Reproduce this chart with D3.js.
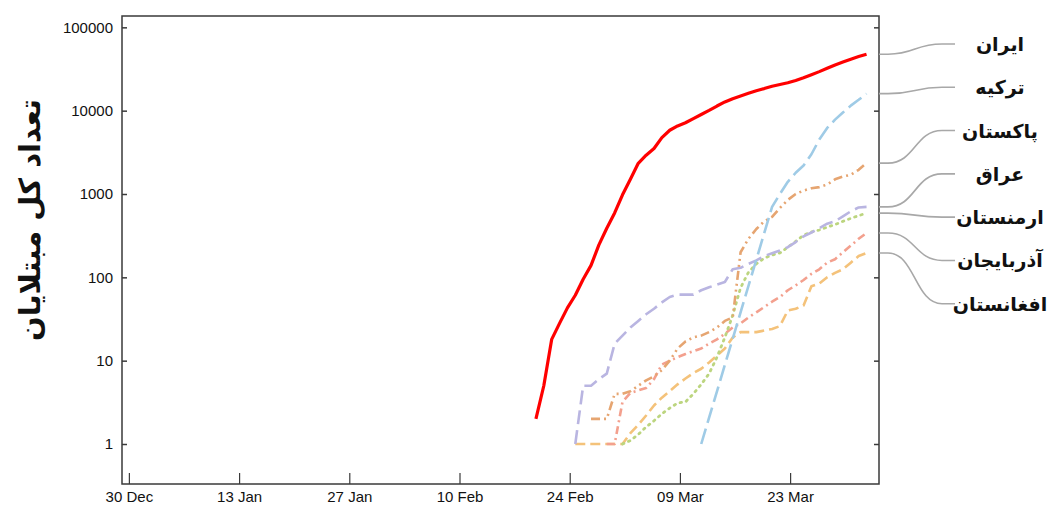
<!DOCTYPE html>
<html>
<head>
<meta charset="utf-8">
<script src="https://cdn.jsdelivr.net/npm/d3@7"></script>
<style>
  html, body { margin: 0; padding: 0; background: #fff; }
  svg { display: block; }
</style>
</head>
<body>
<svg id="chart" width="1060" height="508"></svg>
<script>
// ---------------- data ----------------
const dates = [
  "2020-02-19","2020-02-20","2020-02-21","2020-02-22","2020-02-23","2020-02-24","2020-02-25",
  "2020-02-26","2020-02-27","2020-02-28","2020-02-29","2020-03-01","2020-03-02","2020-03-03",
  "2020-03-04","2020-03-05","2020-03-06","2020-03-07","2020-03-08","2020-03-09","2020-03-10",
  "2020-03-11","2020-03-12","2020-03-13","2020-03-14","2020-03-15","2020-03-16","2020-03-17",
  "2020-03-18","2020-03-19","2020-03-20","2020-03-21","2020-03-22","2020-03-23","2020-03-24",
  "2020-03-25","2020-03-26","2020-03-27","2020-03-28","2020-03-29","2020-03-30","2020-03-31",
  "2020-04-01"
];
const _ = null;
const iran = [2,5,18,28,43,61,95,139,245,388,593,978,1501,2336,2922,3513,4747,5823,6566,7161,8042,
  9000,10075,11364,12729,13938,14991,16169,17361,18407,19644,20610,21638,23049,24811,27017,29406,
  32332,35408,38309,41495,44605,47593];
const turkey = [_,_,_,_,_,_,_,_,_,_,_,_,_,_,_,_,_,_,_,_,_,
  1,_,_,_,_,_,_,_,_,700,1000,1400,1800,2200,3000,4500,6200,7800,9500,11500,13500,16000];
const pakistan = [_,_,_,_,_,_,_,2,2,2,4,4,4.3,5,5.8,6.5,7.7,10,14,17,19,
  20,22,25,30,33,200,290,380,470,530,680,850,1000,1100,1170,1210,1300,1500,1620,1700,1950,2350];
const iraq = [_,_,_,_,_,1,5,5,6,7,16,20,25,30,36,42,50,58,62,62,62,
  70,76,82,88,125,130,145,160,180,195,210,230,265,310,345,390,440,470,540,620,690,700];
const armenia = [_,_,_,_,_,_,_,_,_,_,_,1,1.1,1.3,1.6,1.9,2.3,2.7,3.1,3.2,4,
  5.2,7,11,19,35,75,115,145,170,185,196,230,270,320,350,370,400,430,470,510,550,590];
const azerbaijan = [_,_,_,_,_,_,_,_,_,1,1,3.2,4.1,4.4,4.7,6,9,10,11,12,13,
  14,16,18,21,25,28,33,38,44,51,58,70,80,93,110,125,150,165,200,240,290,340];
const afghanistan = [_,_,_,_,_,1,1,1,1,1,1,1,1.35,1.7,2.2,2.9,3.6,4.3,5.2,6.1,7.1,
  8,9.5,11.5,14,19,22,22,22,23,24,26,40,42,46,78,84,100,113,125,150,180,196];

const seriesNames = ["ایران","ترکیه","پاکستان","عراق","ارمنستان","آذربایجان","افغانستان"];
const seriesValues = [iran, turkey, pakistan, iraq, armenia, azerbaijan, afghanistan];

const xTickDates = ["2019-12-30","2020-01-13","2020-01-27","2020-02-10","2020-02-24","2020-03-09","2020-03-23"];
const yTickValues = [1,10,100,1000,10000,100000];
const yTitle = "تعداد کل مبتلایان";

// ---------------- styles ----------------
const styles = [
  {color:"#ff0000", width:3.2, dash:null},
  {color:"#9fcbe6", width:2.6, dash:"16,6"},
  {color:"#e6a571", width:2.6, dash:"9,4,2,4,2,4"},
  {color:"#b9b5e1", width:2.6, dash:"14,6"},
  {color:"#bcd57f", width:2.8, dash:"1.5,5"},
  {color:"#f3a08e", width:2.6, dash:"8,4,2,4"},
  {color:"#f4c27a", width:2.6, dash:"10,5"}
];

// ---------------- layout ----------------
const svg = d3.select("#chart");
const L = 122, R = 879, T = 16, B = 484;
const reportHour = 17; // cumulative counts drawn at end of reporting day

const parseDay = (s, h=0) => { const [y,m,d] = s.split("-").map(Number); return new Date(Date.UTC(y, m-1, d, h)); };

const x = d3.scaleUtc()
  .domain([new Date(Date.UTC(2019,11,29,3)), new Date(Date.UTC(2020,3,3,7))])
  .range([L, R]);
const y = d3.scaleLog()
  .domain([Math.pow(10,-0.48), Math.pow(10,5.136)])
  .range([B, T]);

const frameColor = "#3a3a3a";
const tickFont = "'Liberation Sans', Arial, sans-serif";

// x axis (ticks inward, bottom)
const xAxis = d3.axisBottom(x)
  .tickValues(xTickDates.map(s => parseDay(s)))
  .tickFormat(d3.utcFormat("%d %b"))
  .tickSizeInner(-11).tickSizeOuter(0).tickPadding(7);
const gx = svg.append("g").attr("transform", `translate(0,${B})`).call(xAxis);
gx.select(".domain").remove();
gx.selectAll("line").attr("stroke", frameColor).attr("stroke-width", 1.2);
gx.selectAll("text").attr("font-family", tickFont).attr("font-size", 15).attr("fill", "#111");

// y axis left (ticks inward)
const yAxisL = d3.axisLeft(y).tickValues(yTickValues).tickFormat(d3.format("d"))
  .tickSizeInner(-5).tickSizeOuter(0).tickPadding(9);
const gyl = svg.append("g").attr("transform", `translate(${L},0)`).call(yAxisL);
gyl.select(".domain").remove();
gyl.selectAll("line").attr("stroke", frameColor).attr("stroke-width", 1.5);
gyl.selectAll("text").attr("font-family", tickFont).attr("font-size", 15).attr("fill", "#111");

// y axis right (mirrored ticks, no labels)
const yAxisR = d3.axisRight(y).tickValues(yTickValues).tickFormat("")
  .tickSizeInner(-5).tickSizeOuter(0);
const gyr = svg.append("g").attr("transform", `translate(${R},0)`).call(yAxisR);
gyr.select(".domain").remove();
gyr.selectAll("line").attr("stroke", frameColor).attr("stroke-width", 1.5);

// lines
const line = d3.line()
  .x(d => x(d.date))
  .y(d => y(d.value));

const series = seriesNames.map((name, i) => ({
  name,
  style: styles[i],
  points: dates.map((s, j) => ({date: parseDay(s, reportHour), value: seriesValues[i][j]}))
               .filter(p => p.value != null)
}));

const gLines = svg.append("g");
series.slice().reverse().forEach(s => {
  gLines.append("path")
    .attr("d", line(s.points))
    .attr("fill", "none")
    .attr("stroke", s.style.color)
    .attr("stroke-width", s.style.width)
    .attr("stroke-dasharray", s.style.dash)
    .attr("stroke-linejoin", "round")
    .attr("stroke-linecap", s.style.dash && s.style.dash.startsWith("1.5") ? "round" : "butt");
});

// frame
svg.append("rect")
  .attr("x", L).attr("y", T).attr("width", R - L).attr("height", B - T)
  .attr("fill", "none").attr("stroke", frameColor).attr("stroke-width", 1.5);

// labels with connectors, spread evenly around mean of end positions
const ends = series.map(s => y(s.points[s.points.length-1].value));
const order = d3.range(series.length).sort((a,b) => ends[a] - ends[b]);
const meanEnd = d3.mean(ends);
const gap = 43.3;
const labelY = [];
order.forEach((idx, k) => { labelY[idx] = meanEnd + (k - (series.length-1)/2) * gap; });

const gLab = svg.append("g");
series.forEach((s, i) => {
  const y0 = ends[i], y1 = labelY[i];
  const x0 = R, x1 = R + 9, x2 = R + 63, x3 = R + 76;
  const xm = (x1 + x2) / 2;
  const p = d3.path();
  p.moveTo(x0, y0); p.lineTo(x1, y0);
  p.bezierCurveTo(xm, y0, xm, y1, x2, y1);
  p.lineTo(x3, y1);
  gLab.append("path").attr("d", p.toString())
    .attr("fill", "none").attr("stroke", "#a8a8a8").attr("stroke-width", 1.6);
  gLab.append("text")
    .attr("x", 1000).attr("y", y1)
    .attr("text-anchor", "middle")
    .attr("dominant-baseline", "central")
    .attr("font-family", "'DejaVu Sans', sans-serif")
    .attr("font-weight", "bold")
    .attr("font-size", 19)
    .attr("fill", "#111")
    .text(s.name);
});

// y title
svg.append("text")
  .attr("transform", "translate(30,220) rotate(-90)")
  .attr("text-anchor", "middle")
  .attr("dominant-baseline", "central")
  .attr("font-family", "'DejaVu Sans', sans-serif")
  .attr("font-weight", "bold")
  .attr("font-size", 29)
  .attr("fill", "#111")
  .text(yTitle);
</script>
</body>
</html>
